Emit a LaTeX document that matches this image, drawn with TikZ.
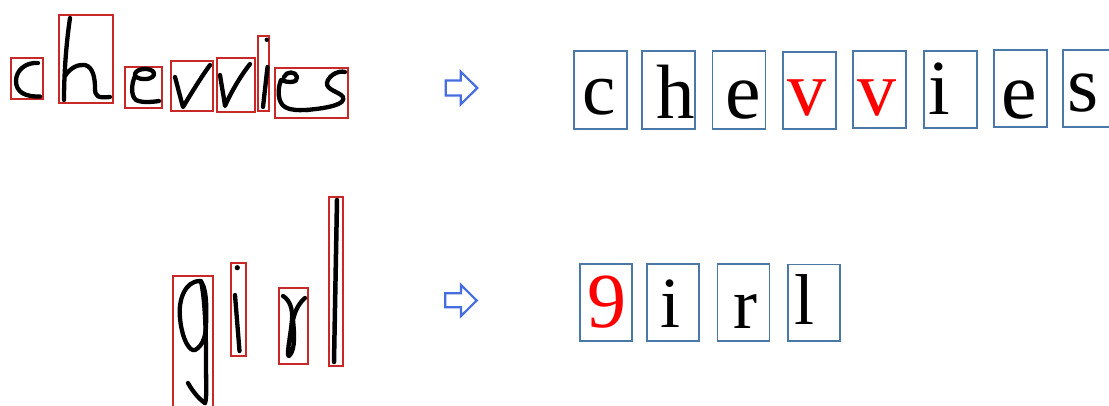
\documentclass[tikz,border=0pt]{standalone}
\usepackage{fontspec}
\setmainfont{Liberation Serif}
\definecolor{boxred}{RGB}{200,40,40}
\definecolor{boxblue}{RGB}{74,120,168}
\definecolor{arrblue}{RGB}{70,110,225}
\definecolor{letred}{RGB}{255,0,0}
\tikzset{
  segbox/.style={draw=boxred, line width=1.8pt},
  ink/.style={draw=black, line width=4.3pt, line cap=round, line join=round},
  cbox/.style={draw=boxblue, line width=1.8pt, rectangle, inner sep=0pt, minimum width=53pt, minimum height=77.5pt},
  dbox/.style={draw=boxblue, line width=1.8pt, rectangle, inner sep=0pt, minimum width=52pt, minimum height=76.5pt},
  glyph/.style={inner sep=0pt, anchor=base, font=\fontsize{72}{72}\selectfont},
  hollow/.style={draw=arrblue, line width=2.2pt, fill=white, line join=miter},
}
\newcommand{\fsz}[1]{\fontsize{#1}{#1}\selectfont}
\begin{document}
\begin{tikzpicture}[x=1pt,y=-1pt]
\useasboundingbox (0,0) rectangle (1109,405);
\clip (0,0) rectangle (1109,405);
\fill[white] (0,0) rectangle (1109,405);

% ---------- handwritten word 1 ----------
\draw[segbox] (10.7,58.3) rectangle (43.3,99);
\draw[segbox] (59,15) rectangle (113.3,103.3);
\draw[segbox] (125,66.7) rectangle (162.3,108.3);
\draw[segbox] (170.7,61) rectangle (212.7,110.7);
\draw[segbox] (216.7,57.7) rectangle (255,111.7);
\draw[segbox] (258.3,36) rectangle (269.3,111);
\draw[segbox] (275,67.7) rectangle (348.3,118.3);

% c
\draw[ink] (38,63) .. controls (26,62) and (16,70) .. (16,81) .. controls (16,92) and (25,97) .. (40,96.5);
% h
\draw[ink] (70,18) .. controls (66,45) and (64,75) .. (64,100);
\draw[ink] (65,76) .. controls (70,68) and (78,64) .. (85,65) .. controls (93,67) and (95,78) .. (95,88) .. controls (95,97) and (98,98) .. (110,97);
% e
\draw[ink] (135,74) .. controls (136,68) and (152,67) .. (154,73) .. controls (155,80) and (140,81) .. (135,76) .. controls (131,85) and (131,96) .. (136,100) .. controls (142,103) and (152,102) .. (159,101);
% v
\draw[ink] (175,77) .. controls (178,88) and (181,100) .. (183,107) .. controls (192,92) and (202,76) .. (210,65);
% v
\draw[ink] (220,75) .. controls (222,88) and (224,98) .. (225,106) .. controls (232,90) and (242,74) .. (250,64);
% l
\fill (266.8,39.8) circle (2.2pt);
\draw[ink] (267.5,67) -- (263,107);
% es
\draw[ink] (284,77) .. controls (286,71) and (296,71) .. (297,77) .. controls (298,83) and (288,83) .. (281,80) .. controls (277,90) and (278,103) .. (285,107) .. controls (292,111) and (300,110) .. (308,110);
\draw[ink] (345,72) .. controls (338,70) and (328,76) .. (327,83) .. controls (326,90) and (340,92) .. (343,97) .. controls (346,104) and (330,108) .. (306,110);

% ---------- handwritten word 2 ----------
\draw[segbox] (173.3,276) rectangle (213.3,410);
\draw[segbox] (231,262.7) rectangle (245.7,355.7);
\draw[segbox] (279.3,288.3) rectangle (308,364);
\draw[segbox] (329.3,196.7) rectangle (342.7,366);

% g
\draw[ink] (200,281) .. controls (185,281) and (178,300) .. (180,318) .. controls (182,340) and (190,352) .. (195,350) .. controls (203,346) and (206,335) .. (206,325) .. controls (207,305) and (206,285) .. (200,281);
\draw[ink] (201,281) .. controls (205,300) and (206,330) .. (206,360) .. controls (206,385) and (207,398) .. (205,403);
\draw[ink] (188,383) .. controls (193,392) and (200,400) .. (205,403);
% i
\fill (237.3,267.7) circle (2.6pt);
\draw[ink] (235,295) -- (239.5,351);
% r
\draw[ink] (283,296) .. controls (290,300) and (293,310) .. (292,320) .. controls (290,340) and (286,356) .. (289,356) .. controls (296,350) and (294,330) .. (293,320) .. controls (295,310) and (300,302) .. (305,298);
% l
\draw[ink, line width=4.5pt] (337,200) -- (334,362);

% ---------- arrows ----------
\draw[hollow] (445.7,80.5) -- (460.7,80.5) -- (460.7,71.7) -- (477.3,88) -- (460.7,104.3) -- (460.7,95.5) -- (445.7,95.5) -- cycle;
\draw[hollow] (445.3,293.3) -- (461,293.3) -- (461,285) -- (476.7,300.5) -- (461,316) -- (461,307.3) -- (445.3,307.3) -- cycle;

% ---------- recognised word 1 ----------
\node[cbox] (b1) at (600.8,90) {};
\node[cbox] (b2) at (668.8,90) {};
\node[cbox] (b3) at (738.9,90) {};
\node[cbox] (b4) at (809.5,90.5) {};
\node[cbox] (b5) at (879.7,89.5) {};
\node[cbox] (b6) at (950.4,89.5) {};
\node[cbox] (b7) at (1020.8,88.5) {};
\node[cbox] (b8) at (1089.2,88.5) {};

\node[glyph, font=\fsz{75}] (t1) at (599.4,114) {c};
\node[glyph, font=\fsz{77}] (t2) at (675.5,118) {h};
\node[glyph, font=\fsz{80}] (t3) at (743.7,118) {e};
\node[glyph, font=\fsz{78}, text=letred] (t4) at (806.6,115) {v};
\node[glyph, font=\fsz{78}, text=letred] (t5) at (877.4,115) {v};
\node[glyph, font=\fsz{78}] (t6) at (939.5,114) {i};
\node[glyph, font=\fsz{80}] (t7) at (1019,118.5) {e};
\node[glyph, font=\fsz{80}] (t8) at (1083.4,111) {s};

% ---------- recognised word 2 ----------
\node[dbox] (c1) at (606,302.5) {};
\node[dbox] (c2) at (672.8,302.5) {};
\node[dbox] (c3) at (743.5,302.5) {};
\node[dbox] (c4) at (814.2,302.8) {};

\node[glyph, text=letred, font=\fsz{78}] (u1) at (607,327) {9};
\node[glyph] (u2) at (670,327.5) {i};
\node[glyph] (u3) at (745,328) {r};
\node[glyph] (u4) at (804,324) {l};
\end{tikzpicture}
\end{document}
